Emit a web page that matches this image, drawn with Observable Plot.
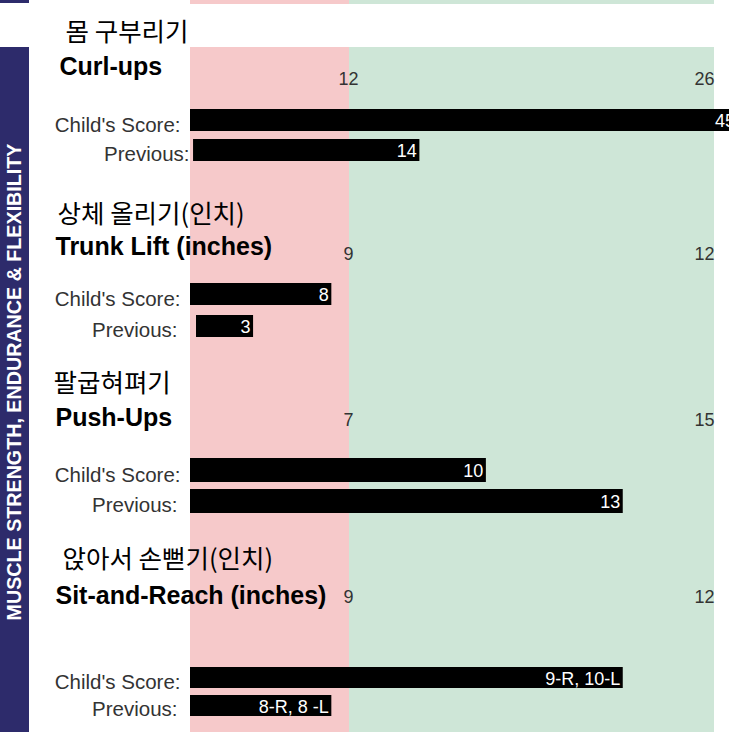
<!DOCTYPE html>
<html>
<head>
<meta charset="utf-8">
<script src="https://cdn.jsdelivr.net/npm/d3@7"></script>
<script src="https://cdn.jsdelivr.net/npm/@observablehq/plot@0.6"></script>
<style>
html, body { margin: 0; padding: 0; background: #fff; }
#chart { position: relative; width: 729px; height: 732px; overflow: hidden; background: #fff; }
.sec { position: absolute; left: 0; width: 729px; }
.sec svg { display: block; }
#bandTop { position: absolute; left: 0; top: 0; width: 29px; height: 3px; background: #2d2b6b; z-index: 3; }
#band { position: absolute; left: 0; top: 47px; width: 29px; height: 685px; background: #2d2b6b; z-index: 3; }
#bandText { position: absolute; left: 14.5px; top: 335px; transform: translate(-50%, -50%) rotate(-90deg);
  white-space: nowrap; color: #fff; font: bold 19.7px "Liberation Sans", Arial, sans-serif; line-height: 1; }
</style>
</head>
<body>
<div id="chart">
  <div id="bandTop"></div>
  <div id="band"><span id="bandText"></span></div>
</div>
<script>
// ---- data ----
const sectionLabel = "MUSCLE STRENGTH, ENDURANCE & FLEXIBILITY";
const testsKo = ["몸 구부리기", "상체 올리기(인치)", "팔굽혀펴기", "앉아서 손뻗기(인치)"];
const testsEn = ["Curl-ups", "Trunk Lift (inches)", "Push-Ups", "Sit-and-Reach (inches)"];
const zoneLow = [12, 9, 7, 9];      // pink / green boundary (tick label)
const zoneHigh = [26, 12, 15, 12];  // end of green zone (tick label)
const rowLabels = ["Child's Score:", "Previous:"];
const childLabel = ["45", "8", "10", "9-R, 10-L"];
const childBarEnd = [26.9, 8, 10, 11.25];   // drawn length (curl-ups bar runs off the chart)
const prevLabel = ["14", "3", "13", "8-R, 8 -L"];
const prevBarStart = [0.23, 0.34, 0, 0];
const prevBarEnd = [14.7, 3.57, 13, 8];

// ---- style / layout ----
const PINK = "#f6c9ca", GREEN = "#cee6d7";
const PINK_W = 159, GREEN_W = 365, X0 = 190; // zone widths in px
const layout = [
  {top: 4,   height: 181, marginTop: 43, yRange: [104, 157.5], pad: 0.274, ko: [65, 36], en: [59, 70], tick: 75, prevX: 189},
  {top: 185, height: 173, marginTop: 0,  yRange: [98, 152],    pad: 0.3125, ko: [57, 37], en: [55, 69], tick: 69, prevX: 177},
  {top: 358, height: 178, marginTop: 0,  yRange: [100, 155],   pad: 0.226, ko: [53, 33], en: [55, 67], tick: 62, prevX: 177},
  {top: 536, height: 196, marginTop: 0,  yRange: [130, 181],   pad: 0.241, ko: [62, 31], en: [55, 67], tick: 61, prevX: 177}
];

document.getElementById("bandText").textContent = sectionLabel;
const chart = document.getElementById("chart");

// piecewise x scale: 0 -> start, low -> pink/green boundary, high -> end of green
function xScale(i) {
  const pw = d3.scaleLinear().domain([0, zoneLow[i], zoneHigh[i]]).range([0, PINK_W, PINK_W + GREEN_W]);
  return {type: "linear", transform: pw, domain: [0, PINK_W + GREEN_W], range: [X0, X0 + PINK_W + GREEN_W], axis: null};
}

function zoneMarks(i) {
  return [
    Plot.rect([{x1: 0, x2: zoneLow[i]}], {x1: "x1", x2: "x2", fill: PINK}),
    Plot.rect([{x1: zoneLow[i], x2: zoneHigh[i]}], {x1: "x1", x2: "x2", fill: GREEN})
  ];
}

// thin strip of the preceding section at the very top
{
  const strip = Plot.plot({
    width: 729, height: 4, margin: 0,
    x: xScale(0),
    style: {background: "transparent"},
    marks: zoneMarks(0)
  });
  const d = document.createElement("div");
  d.className = "sec"; d.style.top = "0px"; d.style.zIndex = 2;
  d.appendChild(strip);
  chart.appendChild(d);
}

layout.forEach((L, i) => {
  const rows = [
    {row: rowLabels[0], x1: 0, x2: childBarEnd[i], label: childLabel[i]},
    {row: rowLabels[1], x1: prevBarStart[i], x2: prevBarEnd[i], label: prevLabel[i]}
  ];
  const p = Plot.plot({
    width: 729, height: L.height,
    marginTop: L.marginTop, marginRight: 0, marginBottom: 0, marginLeft: 0,
    x: xScale(i),
    y: {type: "band", domain: rowLabels, range: L.yRange, paddingInner: L.pad, paddingOuter: 0, axis: null},
    style: {fontFamily: "'Liberation Sans', Arial, sans-serif", background: "#fff", overflow: "visible"},
    marks: [
      ...zoneMarks(i),
      // titles
      Plot.text([testsKo[i]], {text: d => d, frameAnchor: "top-left", dx: L.ko[0], dy: L.ko[1] - L.marginTop,
        textAnchor: "start", lineAnchor: "bottom", fontSize: 25.5, fontFamily: "'Noto Sans CJK KR', sans-serif", fill: "#000"}),
      Plot.text([testsEn[i]], {text: d => d, frameAnchor: "top-left", dx: L.en[0], dy: L.en[1] - L.marginTop,
        textAnchor: "start", lineAnchor: "bottom", fontSize: 25, fontWeight: "bold", fill: "#000"}),
      // zone tick labels
      Plot.text([zoneLow[i]], {x: d => d, text: d => String(d), frameAnchor: "top", dy: L.tick - L.marginTop, dx: -1,
        lineAnchor: "middle", textAnchor: "middle", fontSize: 18, fill: "#333"}),
      Plot.text([zoneHigh[i]], {x: d => d, text: d => String(d), frameAnchor: "top", dy: L.tick - L.marginTop,
        lineAnchor: "middle", textAnchor: "end", fontSize: 18, fill: "#333"}),
      // bars and their values
      Plot.barX(rows, {x1: "x1", x2: "x2", y: "row", fill: "#000"}),
      Plot.text(rows, {x: "x2", y: "row", text: "label", textAnchor: "end", dx: -3, dy: 1, fontSize: 18, fill: "#fff"}),
      // row labels
      Plot.text([rows[0]], {y: "row", text: "row", frameAnchor: "left", dx: 180, dy: 4.5, textAnchor: "end", fontSize: 20.5, fill: "#333"}),
      Plot.text([rows[1]], {y: "row", text: "row", frameAnchor: "left", dx: L.prevX, dy: 3.5, textAnchor: "end", fontSize: 20.5, fill: "#333"})
    ]
  });
  const d = document.createElement("div");
  d.className = "sec"; d.style.top = L.top + "px"; d.style.zIndex = 1;
  d.appendChild(p);
  chart.appendChild(d);
});
</script>
</body>
</html>
